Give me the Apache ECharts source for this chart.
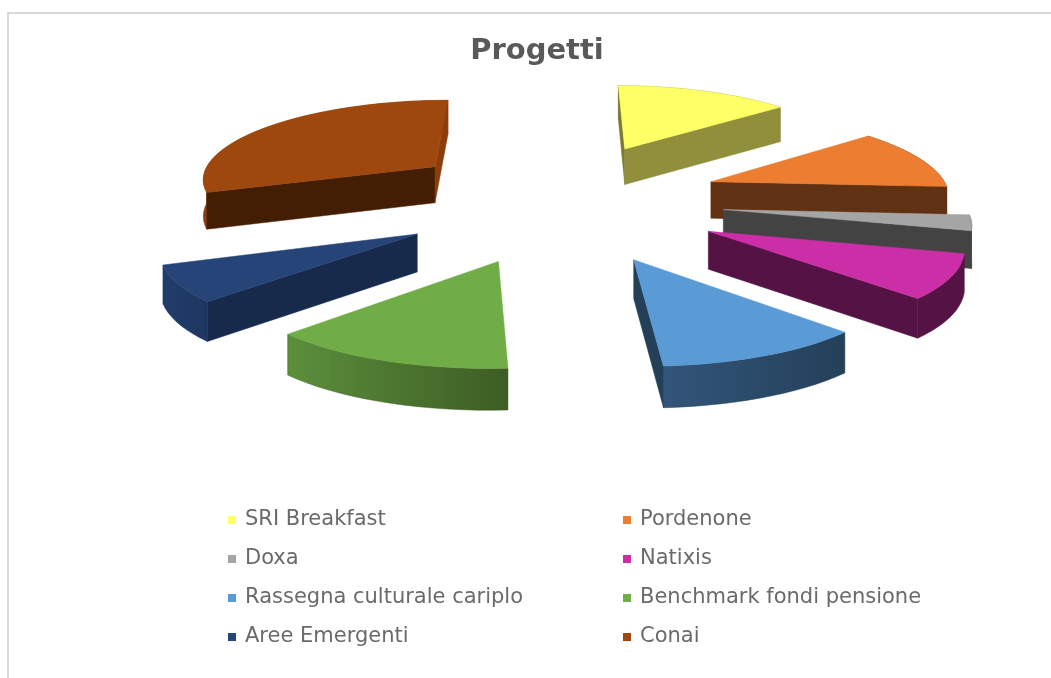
<!DOCTYPE html>
<html>
<head>
<meta charset="utf-8">
<style>html,body{margin:0;padding:0;background:#fff}#chart{width:1051px;height:678px}</style>
<script src="https://cdn.jsdelivr.net/npm/echarts@6/dist/echarts.min.js"></script>
</head>
<body>
<div id="chart"></div>
<script>
// dati (quote in %)
var categories = ['SRI Breakfast', 'Pordenone', 'Doxa', 'Natixis', 'Rassegna culturale cariplo', 'Benchmark fondi pensione', 'Aree Emergenti', 'Conai'];
var shares = [14, 12, 3, 8.5, 11.5, 13.5, 7, 30.5];
var colors = ['#FFFF66', '#ED7D31', '#A5A5A5', '#CC2EA8', '#5B9BD5', '#70AD47', '#264478', '#9E480E'];
var wallStart = ['#7a7a30', '#613113', '#434343', '#541245', '#244059', '#3d5c24', '#172a4b', '#431e02'];
var wallEnd = ['#8f8f3c', '#613113', '#434343', '#541245', '#244059', '#3d5c24', '#172a4b', '#8a3e0c'];
// bordo curvo: colore a sinistra e a destra
var arcLeft = ['#8f8f3c', '#613113', '#434343', '#541245', '#32557a', '#5c8f3c', '#223d6b', '#8a3e0c'];
var arcRight = ['#8f8f3c', '#613113', '#434343', '#541245', '#244059', '#3d5c24', '#1d3661', '#8a3e0c'];
var drawOrder = [7, 0, 1, 2, 3, 6, 4, 5];

// proiezione della torta 3d
var cx = 561, cy = 200, R = 240, tilt = 0.335, perspX = 2000, perspY = 2200, explode = 162, explodeDepth = 181, wall = 37;
var total = 0;
for (var i = 0; i < shares.length; i++) total += shares[i];

function project(a, r, ox, oy, down) {
  var X = ox + r * Math.sin(a), Y = oy + r * Math.cos(a);
  var sx = perspX / (perspX + Y), sy = perspY / (perspY + Y);
  return [cx + X * sx, cy - Y * tilt * sy + down * (1 + sx) / 2];
}

function sliceRender(idx) {
  return function (params, api) {
    var start = 0;
    for (var i = 0; i < idx; i++) start += shares[i];
    var a0 = start / total * Math.PI * 2;
    var a1 = (start + api.value(0)) / total * Math.PI * 2;
    var mid = (a0 + a1) / 2;
    var ox = explode * Math.sin(mid), oy = explodeDepth * Math.cos(mid);
    var n = Math.max(4, Math.ceil((a1 - a0) / 0.05));
    var apex = project(0, 0, ox, oy, 0), apexDown = project(0, 0, ox, oy, wall);
    var upper = [], lower = [];
    for (var k = 0; k <= n; k++) {
      var a = a0 + (a1 - a0) * k / n;
      upper.push(project(a, R, ox, oy, 0));
      lower.unshift(project(a, R, ox, oy, wall));
    }
    var children = [];
    children.push({
      type: 'polygon',
      shape: { points: upper.concat(lower) },
      style: {
        fill: new echarts.graphic.LinearGradient(0, 0, 1, 0, [
          { offset: 0, color: arcLeft[idx] }, { offset: 1, color: arcRight[idx] }
        ]),
        stroke: arcRight[idx], lineWidth: 0.5
      }
    });
    // pareti radiali, solo quelle rivolte verso chi guarda
    function radial(end, endDown, color) {
      children.push({
        type: 'polygon',
        shape: { points: [apex, end, endDown, apexDown] },
        style: { fill: color, stroke: color, lineWidth: 0.5 }
      });
    }
    if (upper[0][0] < apex[0]) radial(upper[0], lower[n], wallStart[idx]);
    if (upper[n][0] > apex[0]) radial(upper[n], lower[0], wallEnd[idx]);
    children.push({
      type: 'polygon',
      shape: { points: [apex].concat(upper) },
      style: { fill: colors[idx], stroke: colors[idx], lineWidth: 0.5 }
    });
    return { type: 'group', children: children };
  };
}

var series = [];
drawOrder.forEach(function (idx) {
  series.push({
    type: 'custom',
    name: categories[idx],
    coordinateSystem: 'none',
    silent: true,
    clip: false,
    itemStyle: { color: colors[idx] },
    data: [[shares[idx]]],
    renderItem: sliceRender(idx)
  });
});

function legendCol(left, names) {
  return {
    left: left, top: 502,
    orient: 'vertical',
    itemWidth: 8, itemHeight: 8, itemGap: 13,
    icon: 'rect',
    selectedMode: false,
    data: names,
    textStyle: { fontFamily: 'DejaVu Sans', fontSize: 21, color: '#6a6a6a', padding: [0, 0, 0, 4], height: 26, lineHeight: 26 }
  };
}

var chart = echarts.init(document.getElementById('chart'), null, { renderer: 'canvas' });
chart.setOption({
  animation: false,
  backgroundColor: '#fff',
  title: {
    text: 'Progetti', left: 532, top: 32, textAlign: 'center',
    textStyle: { fontFamily: 'DejaVu Sans', fontWeight: 'bold', fontSize: 29, color: '#595959' }
  },
  legend: [
    legendCol(223, [categories[0], categories[2], categories[4], categories[6]]),
    legendCol(618, [categories[1], categories[3], categories[5], categories[7]])
  ],
  graphic: [{
    type: 'polyline', z: -1, silent: true,
    shape: { points: [[8, 678], [8, 13], [1051, 13]] },
    style: { fill: 'none', stroke: '#d9d9d9', lineWidth: 2 }
  }],
  series: series
});
</script>
</body>
</html>
